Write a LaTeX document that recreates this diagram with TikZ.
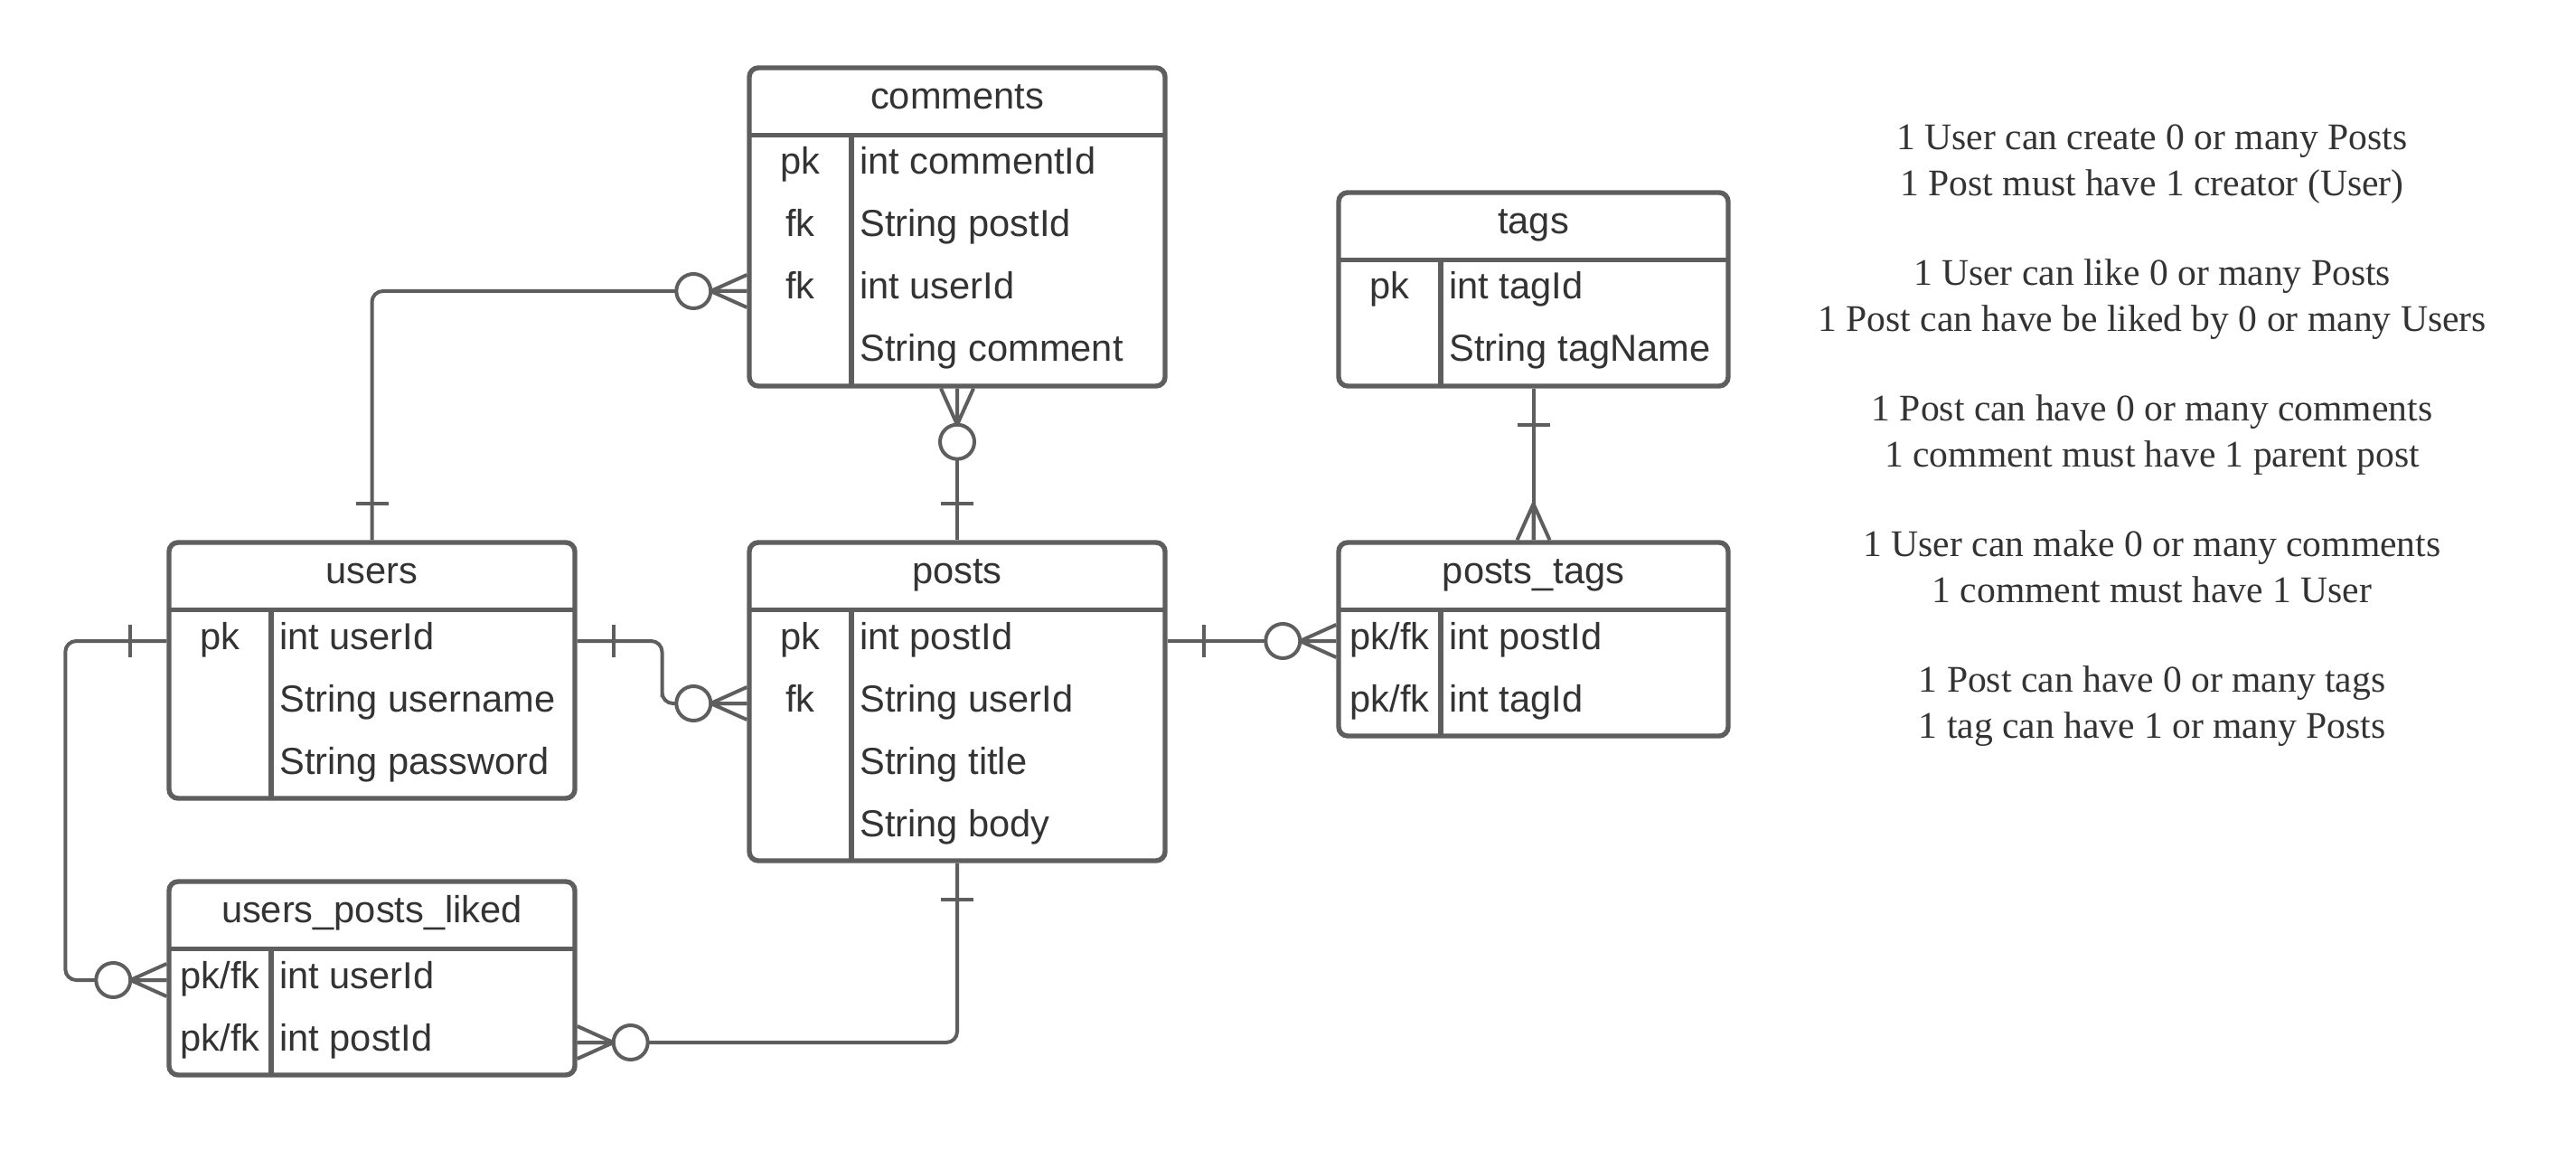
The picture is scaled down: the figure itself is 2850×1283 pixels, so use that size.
\documentclass[tikz,border=0pt]{standalone}
\usepackage{fontspec}
\setmainfont{Liberation Sans}
\newfontfamily\notesfont{Liberation Serif}
\usetikzlibrary{calc}
\definecolor{erline}{HTML}{5E5E5E}
\definecolor{ertext}{HTML}{333333}
\tikzset{
  tbl/.style={draw=erline,line width=2.7pt,rounded corners=5pt,fill=white,inner sep=0pt},
  tblline/.style={draw=erline,line width=2.7pt},
  celltext/.style={text=ertext,font=\fontsize{20.8}{25}\selectfont,text height=.95em,text depth=.05em,inner sep=0pt},
  keycell/.style={celltext},
  fieldcell/.style={celltext,anchor=west},
  conn/.style={draw=erline,line width=2pt,rounded corners=6pt},
  endline/.style={draw=erline,line width=2pt},
  notes/.style={text=ertext,align=center,font=\notesfont\fontsize{20.8}{25.5}\selectfont},
  onebar/.pic={\draw[endline] (40,-18) -- (40,18);},
  onemany/.pic={\draw[endline] (0,-18) -- (40,0) -- (0,18) (0,0) -- (40,0);},
  zeromany/.pic={\draw[endline] (0,-18) -- (40,0) -- (0,18) (0,0) -- (40,0);
    \draw[endline,fill=white] (59,0) circle [radius=9.5pt];}
}
\begin{document}
\begin{tikzpicture}[x=0.5pt,y=-0.5pt]
\useasboundingbox[fill=white] (0,0) rectangle (2850,1283);
%%
  % Node: comments
  \node[tbl,minimum width=230pt,minimum height=176pt] (comments) at (1059,251) {};
  \draw[tblline] (829,149.5) -- (1289,149.5) (942,149.5) -- (942,427);
  \node[celltext] (comments-title) at (1059,111.5) {comments};
  \node[keycell] at (885.5,184) {pk};
  \node[fieldcell] (comments-commentId) at (951,184) {int commentId};
  \node[keycell] at (885.5,253) {fk};
  \node[fieldcell] (comments-postId) at (951,253) {String postId};
  \node[keycell] at (885.5,322) {fk};
  \node[fieldcell] (comments-userId) at (951,322) {int userId};
  \node[fieldcell] (comments-comment) at (951,391) {String comment};
  % Node: tags
  \node[tbl,minimum width=215.5pt,minimum height=107pt] (tags) at (1696.5,320) {};
  \draw[tblline] (1481,287.5) -- (1912,287.5) (1594,287.5) -- (1594,427);
  \node[celltext] (tags-title) at (1696.5,249.5) {tags};
  \node[keycell] at (1537.5,322) {pk};
  \node[fieldcell] (tags-tagId) at (1603,322) {int tagId};
  \node[fieldcell] (tags-tagName) at (1603,391) {String tagName};
  % Node: users
  \node[tbl,minimum width=224.5pt,minimum height=141.5pt] (users) at (411.5,741.5) {};
  \draw[tblline] (187,674.5) -- (636,674.5) (300,674.5) -- (300,883);
  \node[celltext] (users-title) at (411.5,636.5) {users};
  \node[keycell] at (243.5,709) {pk};
  \node[fieldcell] (users-userId) at (309,709) {int userId};
  \node[fieldcell] (users-username) at (309,778) {String username};
  \node[fieldcell] (users-password) at (309,847) {String password};
  % Node: posts
  \node[tbl,minimum width=230pt,minimum height=176pt] (posts) at (1059,776) {};
  \draw[tblline] (829,674.5) -- (1289,674.5) (942,674.5) -- (942,952);
  \node[celltext] (posts-title) at (1059,636.5) {posts};
  \node[keycell] at (885.5,709) {pk};
  \node[fieldcell] (posts-postId) at (951,709) {int postId};
  \node[keycell] at (885.5,778) {fk};
  \node[fieldcell] (posts-userId) at (951,778) {String userId};
  \node[fieldcell] (posts-title-field) at (951,847) {String title};
  \node[fieldcell] (posts-body) at (951,916) {String body};
  % Node: posts_tags
  \node[tbl,minimum width=215.5pt,minimum height=107pt] (posts_tags) at (1696.5,707) {};
  \draw[tblline] (1481,674.5) -- (1912,674.5) (1594,674.5) -- (1594,814);
  \node[celltext] (posts_tags-title) at (1696.5,636.5) {posts\_tags};
  \node[keycell] at (1537.5,709) {pk/fk};
  \node[fieldcell] (posts_tags-postId) at (1603,709) {int postId};
  \node[keycell] at (1537.5,778) {pk/fk};
  \node[fieldcell] (posts_tags-tagId) at (1603,778) {int tagId};
  % Node: users_posts_liked
  \node[tbl,minimum width=224.5pt,minimum height=107pt] (liked) at (411.5,1082) {};
  \draw[tblline] (187,1049.5) -- (636,1049.5) (300,1049.5) -- (300,1189);
  \node[celltext] (liked-title) at (411.5,1011.5) {users\_posts\_liked};
  \node[keycell] at (243.5,1084) {pk/fk};
  \node[fieldcell] (liked-userId) at (309,1084) {int userId};
  \node[keycell] at (243.5,1153) {pk/fk};
  \node[fieldcell] (liked-postId) at (309,1153) {int postId};
%%
  % Edge: users -> comments
  \draw[conn] (users.north) |- (comments.west |- comments-userId);
  \pic[rotate=90] at (users.north) {onebar};
  \pic[rotate=180] at (comments.west |- comments-userId) {zeromany};
  % Edge: posts -> comments
  \draw[conn] (comments.south) -- (posts.north);
  \pic[rotate=-90] at (comments.south) {zeromany};
  \pic[rotate=90] at (posts.north) {onebar};
  % Edge: users -> posts
  \draw[conn] (users.east |- users-userId) -| ($(users.east)!.5!(posts.west)$) |- (posts.west |- posts-userId);
  \pic at (users.east |- users-userId) {onebar};
  \pic[rotate=180] at (posts.west |- posts-userId) {zeromany};
  % Edge: users -> users_posts_liked
  \draw[conn] (users.west |- users-userId) -- ([xshift=-56pt]users.west |- users-userId) |- (liked.west |- liked-userId);
  \pic[rotate=180] at (users.west |- users-userId) {onebar};
  \pic[rotate=180] at (liked.west |- liked-userId) {zeromany};
  % Edge: posts -> users_posts_liked
  \draw[conn] (posts.south) |- (liked.east |- liked-postId);
  \pic[rotate=-90] at (posts.south) {onebar};
  \pic at (liked.east |- liked-postId) {zeromany};
  % Edge: posts -> posts_tags
  \draw[conn] (posts.east |- posts-postId) -- (posts_tags.west |- posts_tags-postId);
  \pic at (posts.east |- posts-postId) {onebar};
  \pic[rotate=180] at (posts_tags.west |- posts_tags-postId) {zeromany};
  % Edge: tags -> posts_tags
  \draw[conn] (tags.south) -- (posts_tags.north);
  \pic[rotate=-90] at (tags.south) {onebar};
  \pic[rotate=90] at (posts_tags.north) {onemany};
%%
  % Node: notes
  \node[notes] (notes) at (2381,482) {1 User can create 0 or many Posts\\
    1 Post must have 1 creator (User)\\[24pt]
    1 User can like 0 or many Posts\\
    1 Post can have be liked by 0 or many Users\\[24pt]
    1 Post can have 0 or many comments\\
    1 comment must have 1 parent post\\[24pt]
    1 User can make 0 or many comments\\
    1 comment must have 1 User\\[24pt]
    1 Post can have 0 or many tags\\
    1 tag can have 1 or many Posts};
%
\end{tikzpicture}
\end{document}
